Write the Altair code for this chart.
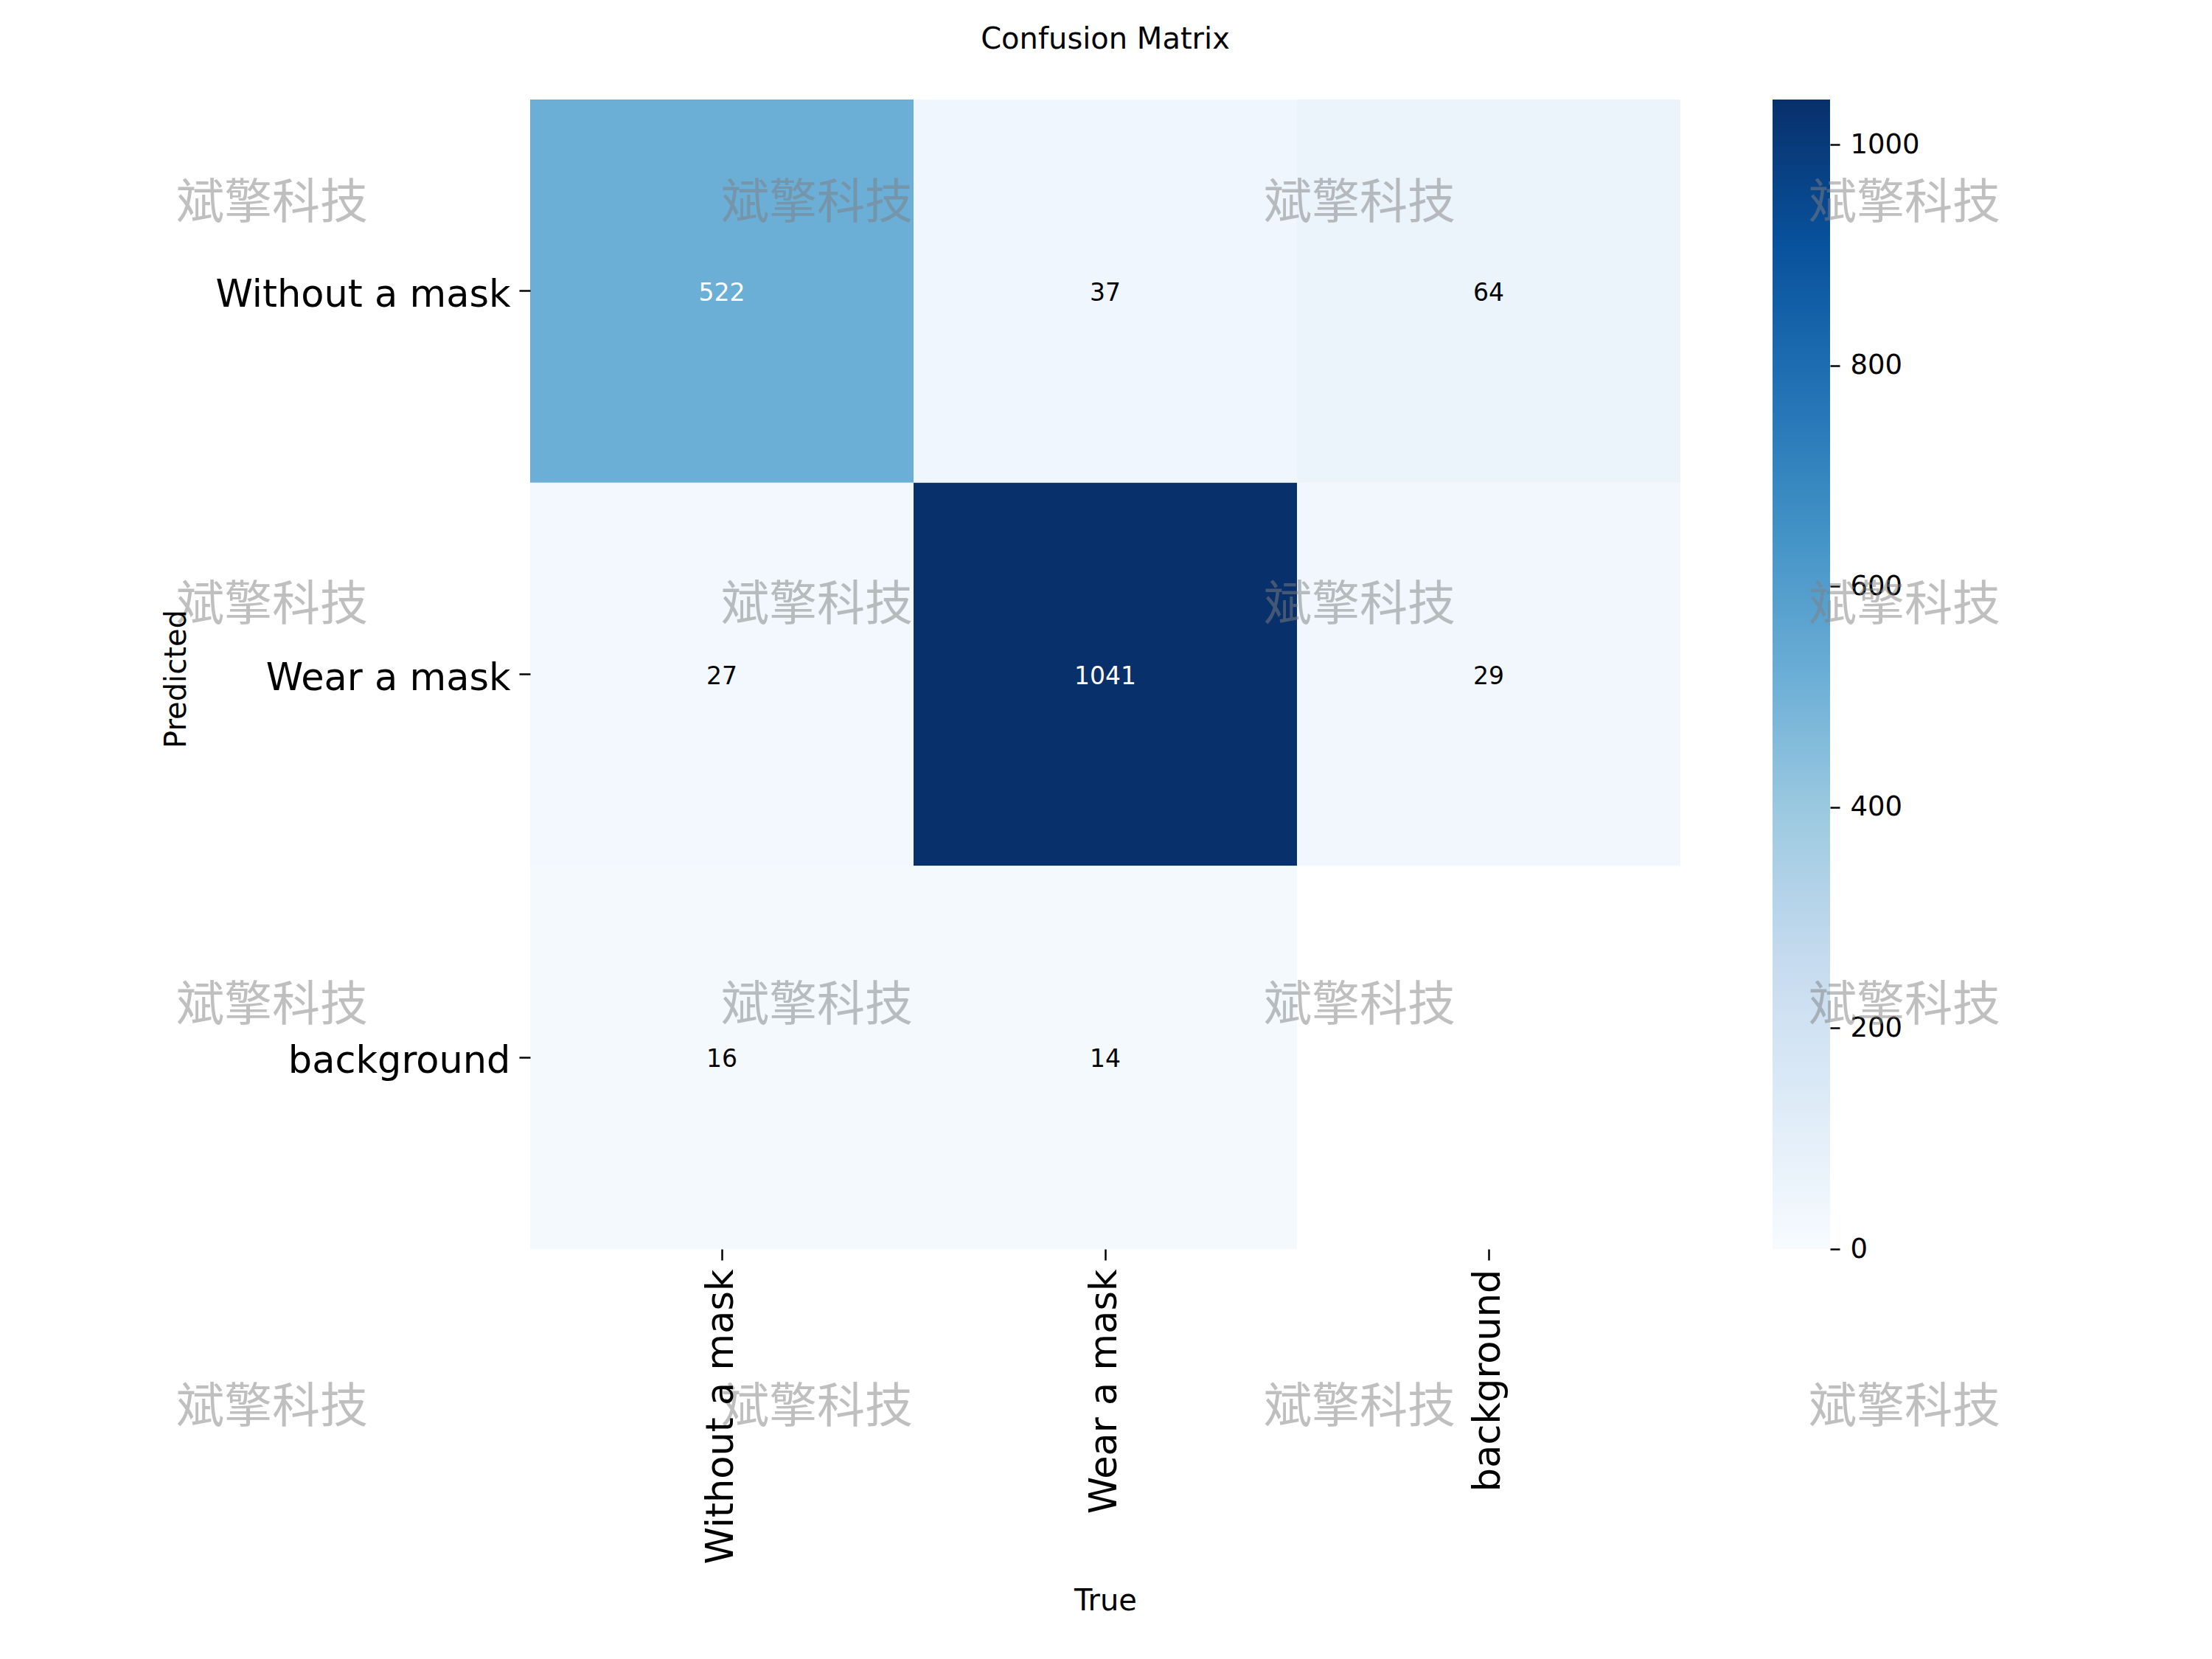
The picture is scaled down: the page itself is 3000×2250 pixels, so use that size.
import altair as alt
import pandas as pd

# ---- data ----
classes = ["Without a mask", "Wear a mask", "background"]
pred_labels = ["Without a mask", "Without a mask", "Without a mask",
               "Wear a mask", "Wear a mask", "Wear a mask",
               "background", "background"]
true_labels = ["Without a mask", "Wear a mask", "background",
               "Without a mask", "Wear a mask", "background",
               "Without a mask", "Wear a mask"]
counts = [522, 37, 64, 27, 1041, 29, 16, 14]
colorbar_ticks = [0, 200, 400, 600, 800, 1000]
blues = ["#f7fbff", "#deebf7", "#c6dbef", "#9ecae1", "#6baed6",
         "#4292c6", "#2171b5", "#08519c", "#08306b"]
watermark = "斌擎科技"

df = pd.DataFrame({"pred": pred_labels, "true": true_labels, "count": counts})
vmax = max(counts)
n = len(blues)
color_domain = [vmax * i / (n - 1) for i in range(n)]

W, H = 1560, 1559
FONT = "DejaVu Sans"

xscale = alt.Scale(domain=classes, paddingInner=0, paddingOuter=0)
yscale = alt.Scale(domain=classes, paddingInner=0, paddingOuter=0)

x_axis = alt.Axis(
    title="True", labelAngle=270, labelAlign="right", labelBaseline="middle",
    labelFontSize=51, labelFont=FONT, labelColor="black", labelPadding=12,
    labelLimit=0, tickSize=15, tickWidth=2.5, tickColor="black", domain=False,
    titleFontSize=40, titleFont=FONT, titleFontWeight="normal", titleColor="black",
    titleX=W / 2, titleY=477, titleBaseline="middle", titleAlign="center",
)
y_axis = alt.Axis(
    title="Predicted", labelFontSize=51, labelFont=FONT, labelColor="black",
    labelPadding=12, labelLimit=0, labelOffset=6, tickSize=15, tickWidth=2.5,
    tickColor="black", domain=False, titleFontSize=40, titleFont=FONT,
    titleFontWeight="normal", titleColor="black", titleX=-480, titleY=H / 2 + 6,
    titleAngle=270, titleBaseline="middle", titleAlign="center",
)

rect = alt.Chart(df).mark_rect().encode(
    x=alt.X("true:N", scale=xscale, axis=x_axis),
    y=alt.Y("pred:N", scale=yscale, axis=y_axis),
    color=alt.Color("count:Q", scale=alt.Scale(domain=color_domain, range=blues,
                                                interpolate="rgb"), legend=None),
)

text = alt.Chart(df).mark_text(font=FONT, fontSize=33, dy=3).encode(
    x=alt.X("true:N", scale=xscale, axis=x_axis),
    y=alt.Y("pred:N", scale=yscale, axis=y_axis),
    text=alt.Text("count:Q", format="d"),
    color=alt.condition(alt.datum["count"] > 300, alt.value("white"), alt.value("black")),
)

heat = alt.layer(rect, text)

gradient = alt.LinearGradient(
    gradient="linear",
    stops=[alt.GradientStop(offset=i / (n - 1), color=c) for i, c in enumerate(blues)],
    x1=0, x2=0, y1=1, y2=0,
)

colorbar = alt.Chart(pd.DataFrame({"lo": [0], "hi": [vmax]})).mark_rect(fill=gradient).encode(
    x=alt.value(1685), x2=alt.value(1763),
    y=alt.Y("lo:Q", scale=alt.Scale(domain=[0, vmax], nice=False, zero=True),
            axis=alt.Axis(orient="right", offset=203, values=colorbar_ticks, title=None,
                          domain=False, grid=False, tickSize=13, tickWidth=2.5,
                          tickColor="black", labelFontSize=37, labelFont=FONT,
                          labelColor="black", labelPadding=14, format="d")),
    y2="hi:Q",
)

wm_x = [-350, 389, 1125, 1864]
wm_y = [141, 686, 1229, 1774]
wm_layers = []
for yy in wm_y:
    for xx in wm_x:
        wm_layers.append(
            alt.Chart(pd.DataFrame({"t": [watermark]})).mark_text(
                font="Noto Sans CJK SC", fontSize=65, color="#808080", opacity=0.5,
                align="center", baseline="middle",
            ).encode(text="t:N", x=alt.value(xx), y=alt.value(yy))
        )

chart = alt.layer(heat, colorbar, *wm_layers).resolve_scale(
    y="independent", color="independent"
).properties(
    width=W, height=H,
    title=alt.Title("Confusion Matrix", fontSize=40, font=FONT, fontWeight="normal",
                    color="black", anchor="middle", frame="group", baseline="middle",
                    offset=41),
    autosize=alt.AutoSizeParams(type="none"),
    padding={"left": 711, "top": 127, "right": 650, "bottom": 520},
    background="white",
).configure_view(stroke=None)

chart.save("out.html", embed_options={"renderer": "svg", "actions": False})
